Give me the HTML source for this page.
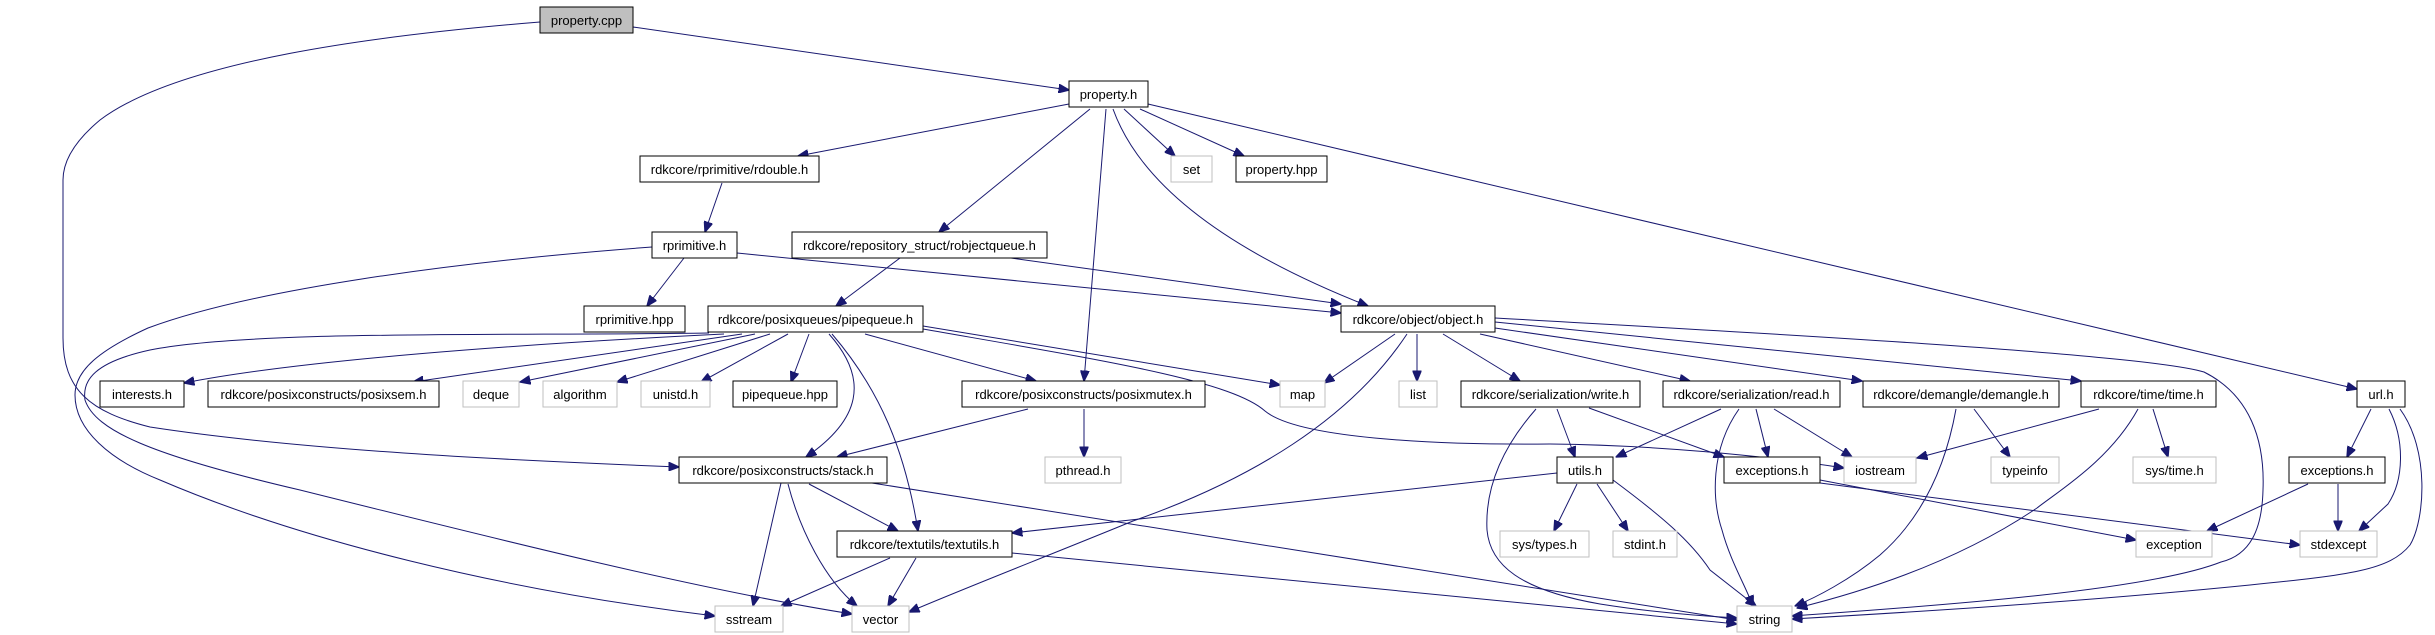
<!DOCTYPE html>
<html><head><meta charset="utf-8"><style>
html,body{margin:0;padding:0;background:#fff;}
svg{display:block;}
text{font-family:"Liberation Sans",Arial,sans-serif;font-size:13px;fill:#000;text-anchor:middle;}
.b{fill:#fff;stroke:#000;stroke-width:1;}
.g{fill:#fff;stroke:#bfbfbf;stroke-width:1;}
.e{fill:none;stroke:#191970;stroke-width:1;}
</style></head><body>
<svg width="2435" height="635" viewBox="0 0 2435 635" xmlns="http://www.w3.org/2000/svg">
<defs><marker id="a" markerWidth="11" markerHeight="9" refX="10.5" refY="4.5" orient="auto" markerUnits="userSpaceOnUse"><path d="M0,0 L11,4.5 L0,9 z" fill="#191970" stroke="#191970"/></marker></defs>
<g class="e" marker-end="url(#a)">
<path d="M633,27 L1069,90"/>
<path d="M540,22 C380,35 180,60 100,120 C70,145 63,165 63,180 L63,338 C63,390 90,412 150,427 C300,450 500,460 679,467"/>
<path d="M1069,104 L798,156"/>
<path d="M1090,109 L939,232"/>
<path d="M1106,109 L1084,381"/>
<path d="M1113,109 C1135,170 1200,240 1368,306"/>
<path d="M1124,109 L1175,156"/>
<path d="M1140,109 L1244,156"/>
<path d="M1148,104 L2357,389"/>
<path d="M722,183 L705,232"/>
<path d="M684,258 L647,306"/>
<path d="M737,253 L1341,313"/>
<path d="M652,247 C450,262 250,290 148,328 C100,350 75,370 75,395 C75,430 110,460 160,480 C300,540 500,590 715,616"/>
<path d="M900,258 L836,306"/>
<path d="M1011,258 L1341,304"/>
<path d="M724,334 C520,344 300,360 184,383"/>
<path d="M742,334 L413,382"/>
<path d="M755,334 L520,382"/>
<path d="M770,334 L617,382"/>
<path d="M788,334 L701,382"/>
<path d="M809,334 L791,382"/>
<path d="M709,333 C500,336 250,330 150,350 C95,362 82,380 85,400 C95,430 150,455 300,490 C500,540 700,590 852,614"/>
<path d="M829,334 C870,380 860,420 806,457"/>
<path d="M832,334 C880,390 905,450 918,531"/>
<path d="M865,334 L1036,381"/>
<path d="M923,326 L1280,385"/>
<path d="M923,329 C1100,360 1230,380 1265,411 C1300,440 1450,445 1550,444 C1650,445 1760,455 1844,468"/>
<path d="M1028,409 L837,457"/>
<path d="M1084,409 L1084,457"/>
<path d="M781,483 L753,606"/>
<path d="M788,484 C800,530 825,580 857,606"/>
<path d="M809,484 L898,531"/>
<path d="M872,483 L1737,620"/>
<path d="M890,558 L781,606"/>
<path d="M916,558 L888,606"/>
<path d="M1012,553 L1737,624"/>
<path d="M1395,334 L1324,383"/>
<path d="M1407,334 C1350,420 1250,480 1133,521 C1050,555 960,590 909,612"/>
<path d="M1417,334 L1417,381"/>
<path d="M1443,334 L1520,381"/>
<path d="M1480,334 L1690,381"/>
<path d="M1495,328 L1862,381"/>
<path d="M1495,322 L2081,381"/>
<path d="M1495,318 C1800,335 2150,355 2204,372 C2250,395 2265,440 2263,490 C2262,530 2250,555 2221,562 C2150,590 1950,605 1792,616"/>
<path d="M1557,409 L1575,457"/>
<path d="M1589,408 L1724,457"/>
<path d="M1536,409 C1500,450 1485,490 1487,530 C1490,565 1520,590 1600,604 C1650,612 1700,616 1737,618"/>
<path d="M1721,409 L1616,457"/>
<path d="M1739,409 C1710,450 1712,500 1722,530 C1730,560 1745,585 1753,606"/>
<path d="M1756,409 L1768,457"/>
<path d="M1774,409 L1852,457"/>
<path d="M1956,409 C1945,470 1920,520 1880,555 C1850,580 1815,598 1795,606"/>
<path d="M1974,409 L2010,457"/>
<path d="M2099,409 L1917,458"/>
<path d="M2138,409 C2110,460 2060,490 2037,508 C1960,560 1870,590 1797,608"/>
<path d="M2153,409 L2168,457"/>
<path d="M2371,409 L2347,457"/>
<path d="M2389,409 C2405,440 2404,480 2388,504 L2359,531"/>
<path d="M2400,409 C2430,450 2425,520 2410,545 C2390,570 2350,575 2250,585 C2100,600 1950,610 1792,619"/>
<path d="M1557,473 L1012,533"/>
<path d="M1577,484 L1554,531"/>
<path d="M1597,484 L1628,531"/>
<path d="M1613,480 C1660,515 1690,540 1710,570 L1756,606"/>
<path d="M1820,480 L2136,540"/>
<path d="M1820,483 L2300,545"/>
<path d="M2308,484 L2207,531"/>
<path d="M2338,484 L2338,531"/>
</g>
<g>
<rect x="540" y="7" width="93" height="26" fill="#bfbfbf" stroke="#000"/><text x="586.5" y="25">property.cpp</text>
<rect class="b" x="1069" y="81" width="79" height="26"/><text x="1108.5" y="99">property.h</text>
<rect class="b" x="640" y="156" width="179" height="26"/><text x="729.5" y="174">rdkcore/rprimitive/rdouble.h</text>
<rect class="g" x="1171" y="156" width="41" height="26"/><text x="1191.5" y="174">set</text>
<rect class="b" x="1236" y="156" width="91" height="26"/><text x="1281.5" y="174">property.hpp</text>
<rect class="b" x="652" y="232" width="85" height="26"/><text x="694.5" y="250">rprimitive.h</text>
<rect class="b" x="792" y="232" width="255" height="26"/><text x="919.5" y="250">rdkcore/repository_struct/robjectqueue.h</text>
<rect class="b" x="584" y="306" width="101" height="26"/><text x="634.5" y="324">rprimitive.hpp</text>
<rect class="b" x="708" y="306" width="215" height="26"/><text x="815.5" y="324">rdkcore/posixqueues/pipequeue.h</text>
<rect class="b" x="1341" y="306" width="154" height="26"/><text x="1418" y="324">rdkcore/object/object.h</text>
<rect class="b" x="100" y="381" width="84" height="26"/><text x="142" y="399">interests.h</text>
<rect class="b" x="208" y="381" width="231" height="26"/><text x="323.5" y="399">rdkcore/posixconstructs/posixsem.h</text>
<rect class="g" x="463" y="381" width="56" height="26"/><text x="491" y="399">deque</text>
<rect class="g" x="543" y="381" width="74" height="26"/><text x="580" y="399">algorithm</text>
<rect class="g" x="641" y="381" width="69" height="26"/><text x="675.5" y="399">unistd.h</text>
<rect class="b" x="733" y="381" width="104" height="26"/><text x="785" y="399">pipequeue.hpp</text>
<rect class="b" x="962" y="381" width="243" height="26"/><text x="1083.5" y="399">rdkcore/posixconstructs/posixmutex.h</text>
<rect class="g" x="1280" y="381" width="45" height="26"/><text x="1302.5" y="399">map</text>
<rect class="g" x="1399" y="381" width="38" height="26"/><text x="1418" y="399">list</text>
<rect class="b" x="1461" y="381" width="179" height="26"/><text x="1550.5" y="399">rdkcore/serialization/write.h</text>
<rect class="b" x="1663" y="381" width="177" height="26"/><text x="1751.5" y="399">rdkcore/serialization/read.h</text>
<rect class="b" x="1863" y="381" width="196" height="26"/><text x="1961" y="399">rdkcore/demangle/demangle.h</text>
<rect class="b" x="2081" y="381" width="135" height="26"/><text x="2148.5" y="399">rdkcore/time/time.h</text>
<rect class="b" x="2357" y="381" width="48" height="26"/><text x="2381" y="399">url.h</text>
<rect class="b" x="679" y="457" width="208" height="26"/><text x="783" y="475">rdkcore/posixconstructs/stack.h</text>
<rect class="g" x="1045" y="457" width="76" height="26"/><text x="1083" y="475">pthread.h</text>
<rect class="b" x="1557" y="457" width="56" height="26"/><text x="1585" y="475">utils.h</text>
<rect class="b" x="1724" y="457" width="96" height="26"/><text x="1772" y="475">exceptions.h</text>
<rect class="g" x="1844" y="457" width="72" height="26"/><text x="1880" y="475">iostream</text>
<rect class="g" x="1991" y="457" width="68" height="26"/><text x="2025" y="475">typeinfo</text>
<rect class="g" x="2133" y="457" width="83" height="26"/><text x="2174.5" y="475">sys/time.h</text>
<rect class="b" x="2289" y="457" width="96" height="26"/><text x="2337" y="475">exceptions.h</text>
<rect class="b" x="837" y="531" width="175" height="26"/><text x="924.5" y="549">rdkcore/textutils/textutils.h</text>
<rect class="g" x="1500" y="531" width="89" height="26"/><text x="1544.5" y="549">sys/types.h</text>
<rect class="g" x="1613" y="531" width="64" height="26"/><text x="1645" y="549">stdint.h</text>
<rect class="g" x="2136" y="531" width="76" height="26"/><text x="2174" y="549">exception</text>
<rect class="g" x="2300" y="531" width="77" height="26"/><text x="2338.5" y="549">stdexcept</text>
<rect class="g" x="715" y="606" width="68" height="26"/><text x="749" y="624">sstream</text>
<rect class="g" x="852" y="606" width="57" height="26"/><text x="880.5" y="624">vector</text>
<rect class="g" x="1737" y="606" width="55" height="26"/><text x="1764.5" y="624">string</text>
</g>
</svg>
</body></html>
